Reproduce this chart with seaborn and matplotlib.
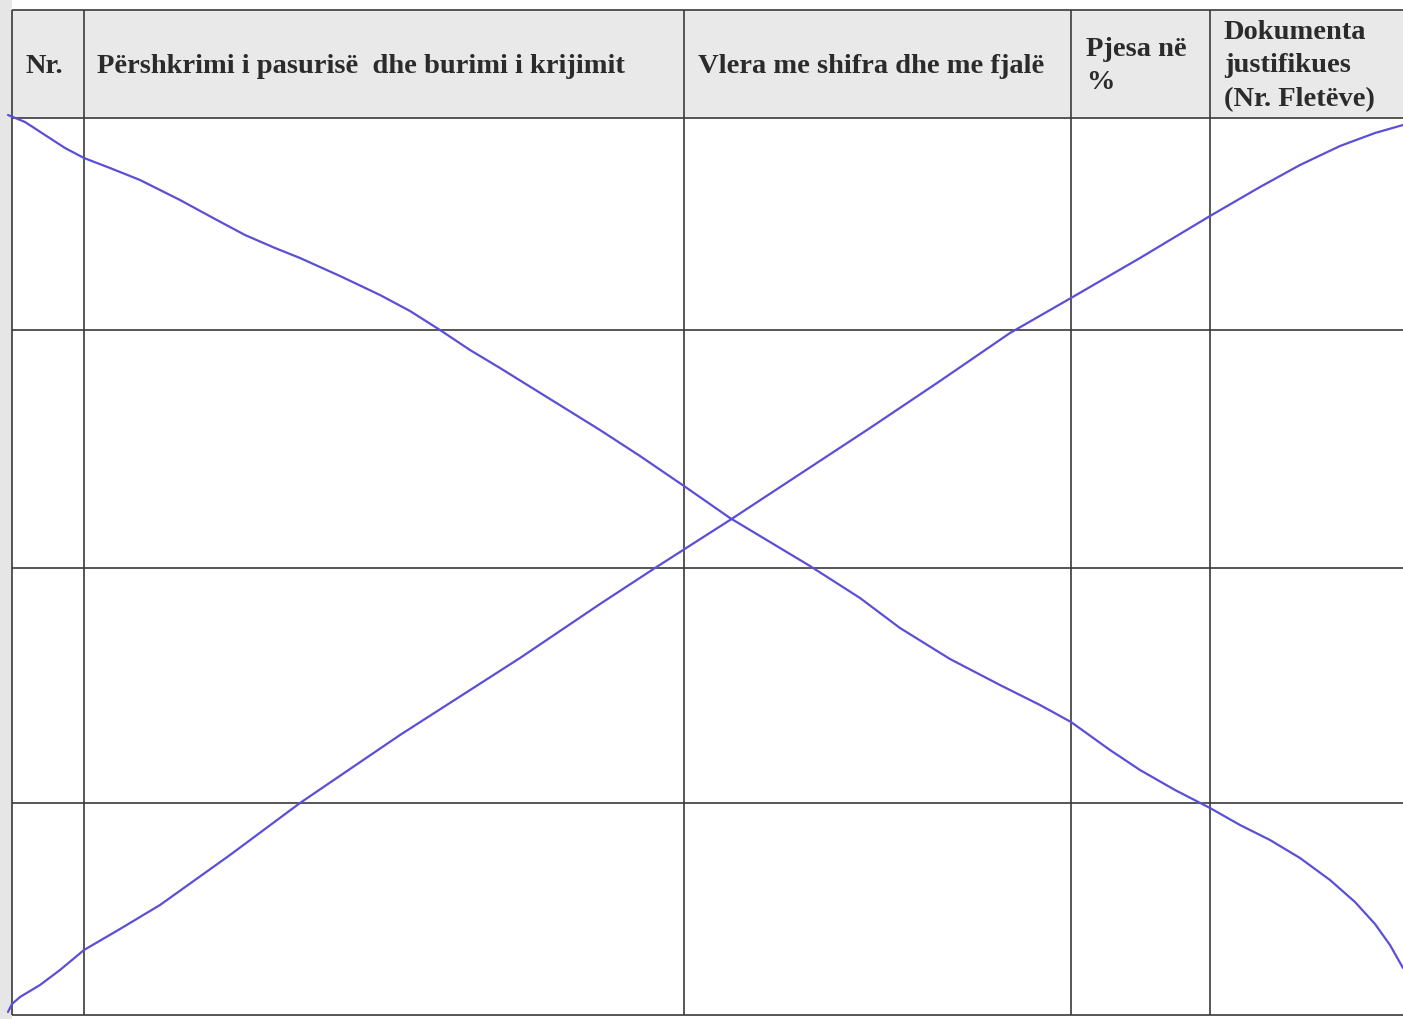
import matplotlib
matplotlib.use("Agg")
import matplotlib.pyplot as plt
import pandas as pd
import seaborn as sns

# table grid (page pixel coordinates)
col_edges = [12, 84, 684, 1071, 1210]
row_edges = [10, 118, 330, 568, 803, 1015]
header_labels = ["Nr.", "Përshkrimi i pasurisë  dhe burimi i krijimit",
                 "Vlera me shifra dhe me fjalë", "Pjesa në\n%",
                 "Dokumenta\njustifikues\n(Nr. Fletëve)"]
header_x = [26, 97, 698, 1086, 1224]

# the two hand-drawn crossing strokes
down_x = [8, 25, 45, 65, 84, 110, 140, 180, 215, 245, 275, 300, 340, 380, 410,
          440, 470, 500, 550, 600, 640, 684, 730, 770, 810, 860, 900, 950, 1000,
          1040, 1071, 1110, 1140, 1175, 1210, 1240, 1270, 1300, 1330, 1355,
          1375, 1390, 1403]
down_y = [115, 122, 135, 148, 158, 168, 180, 200, 219, 235, 248, 258, 276, 295,
          311, 330, 350, 368, 399, 430, 456, 486, 518, 542, 566, 598, 628, 659,
          685, 705, 722, 750, 770, 790, 808, 825, 840, 858, 880, 902, 924, 945,
          968]
up_x = [8, 12, 20, 40, 60, 84, 120, 160, 230, 300, 400, 520, 600, 655, 730,
        800, 870, 940, 1010, 1071, 1140, 1210, 1260, 1300, 1340, 1375, 1403]
up_y = [1012, 1004, 997, 985, 970, 950, 929, 905, 855, 803, 735, 658, 604, 568,
        520, 474, 428, 381, 333, 298, 258, 216, 187, 165, 146, 133, 125]

sns.set_theme(style="white")
plt.rcParams["font.family"] = ["Liberation Serif", "DejaVu Serif"]

fig = plt.figure(figsize=(14.03, 10.19), dpi=100)
ax = fig.add_axes([0, 0, 1, 1])

# scan border and header band
ax.axvspan(0, col_edges[0], color="#e6e6e6", lw=0)
ax.fill_between([col_edges[0], 1403], row_edges[0], row_edges[1], color="#e9e9e9", lw=0)

ax.vlines(col_edges, row_edges[0], row_edges[-1], color="#3a3a3a", lw=1.2)
ax.hlines(row_edges, col_edges[0], 1403, color="#3a3a3a", lw=1.2)

for lab, x in zip(header_labels, header_x):
    ax.text(x, 66, lab, ha="left", va="center", multialignment="left",
            fontsize=20.5, fontweight="bold", color="#2b2b2b", linespacing=1.45)

strokes = pd.concat([
    pd.DataFrame({"x": down_x, "y": down_y, "stroke": "down"}),
    pd.DataFrame({"x": up_x, "y": up_y, "stroke": "up"}),
])
sns.lineplot(data=strokes, x="x", y="y", units="stroke", estimator=None, sort=False,
             color="#5b4fd6", linewidth=1.6, ax=ax)
ax.set_xlim(0, 1403)
ax.set_ylim(1019, 0)
ax.axis("off")

fig.savefig("out.png", dpi=100)
